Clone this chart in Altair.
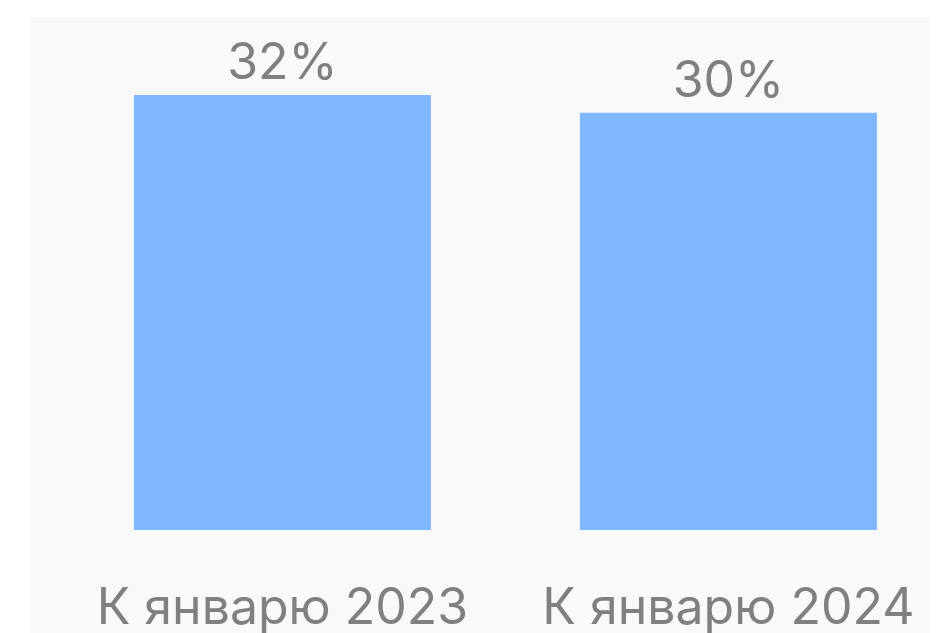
import altair as alt
import pandas as pd

categories = ["К январю 2023", "К январю 2024"]
values = [32.0, 30.7]
labels = ["32%", "30%"]

df = pd.DataFrame({"cat": categories, "val": values, "lab": labels})

TEXT = "#808080"
FONT = "Inter"

x = alt.X("cat:N", sort=categories, title=None,
          scale=alt.Scale(paddingInner=0.334, paddingOuter=0.176, align=0.662),
          axis=alt.Axis(labelAngle=0, domain=False, ticks=False, tickSize=0,
                        labelFontSize=50, labelColor=TEXT, labelFont=FONT,
                        labelBaseline="alphabetic", labelPadding=-11,
                        labelLimit=0, labelFontWeight=400))
y = alt.Y("val:Q", title=None,
          scale=alt.Scale(domain=[0, 37.74], range=[513, 0], nice=False),
          axis=None)

base = alt.Chart(df)
bars = base.mark_bar(color="#80b8ff").encode(x=x, y=y)
text = base.mark_text(baseline="alphabetic", dy=-16, fontSize=50, font=FONT,
                      color=TEXT, fontWeight=400).encode(x=x, y=y, text="lab:N")

chart = (bars + text).properties(
    width=900, height=617,
    autosize=alt.AutoSizeParams(type="none"),
    padding={"left": 22, "top": 9, "right": 0, "bottom": 0},
    background="white",
).configure_view(fill="#f9f9f9", stroke=None)

chart.save("out.html", embed_options={"renderer": "svg", "actions": False})
